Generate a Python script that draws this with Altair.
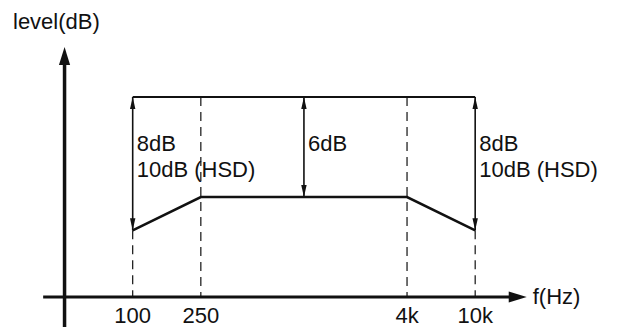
import altair as alt
import pandas as pd

# ---- values ----
band_freqs = [100, 250, 4000, 10000]          # corner frequencies (Hz)
tick_labels = ["100", "250", "4k", "10k"]
lower_levels = [-8, -6, -6, -8]               # lower response curve (dB rel. top)
top_level = 0
arrow_freqs = [100, 1000, 10000]              # double arrows
arrow_bottoms = [-8, -6, -8]
guide_tops = [-8, 0, 0, -8]                   # dashed guides start
axis_level = -12                              # frequency axis crossing level
yaxis_freq = 40
xaxis_start = 30
xaxis_end = 20000
yaxis_top = 3
yaxis_bottom = -13.8

ann_freqs = [100, 100, 1000, 10000, 10000]
ann_levels = [-2.8, -4.4, -2.8, -2.8, -4.4]
ann_texts = ["8dB", "10dB (HSD)", "6dB", "8dB", "10dB (HSD)"]

INK = "#111111"
FONT = "Liberation Sans"
FS = 22

xscale = alt.Scale(type="log", domain=[18.7, 63800], nice=False)
yscale = alt.Scale(domain=[-13.8, 5.34], nice=False, zero=False)


def X(f):
    return alt.X(f, type="quantitative", scale=xscale, axis=None)


def Y(f):
    return alt.Y(f, type="quantitative", scale=yscale, axis=None)


UP_BIG = "M0,0L-0.62,2L0.62,2Z"
RIGHT_BIG = "M0,0L-2,-0.62L-2,0.62Z"
UP_SMALL = "M0,0L-0.45,2L0.45,2Z"
DOWN_SMALL = "M0,0L-0.45,-2L0.45,-2Z"

# y axis
yaxis_df = pd.DataFrame({"f": [yaxis_freq], "y1": [yaxis_bottom], "y2": [yaxis_top - 1]})
yaxis = alt.Chart(yaxis_df).mark_rule(color=INK, strokeWidth=3.5).encode(
    x=X("f"), y=Y("y1"), y2="y2")
yarrow = alt.Chart(pd.DataFrame({"f": [yaxis_freq], "level": [yaxis_top]})).mark_point(
    shape=UP_BIG, size=324, filled=True, opacity=1, color=INK).encode(x=X("f"), y=Y("level"))

# x axis
xaxis_df = pd.DataFrame({"f1": [xaxis_start], "f2": [17000], "level": [axis_level]})
xaxis = alt.Chart(xaxis_df).mark_rule(color=INK, strokeWidth=3).encode(
    x=X("f1"), x2="f2", y=Y("level"))
xarrow = alt.Chart(pd.DataFrame({"f": [xaxis_end], "level": [axis_level]})).mark_point(
    shape=RIGHT_BIG, size=324, filled=True, opacity=1, color=INK).encode(x=X("f"), y=Y("level"))

# dashed guides
guide_df = pd.DataFrame({"f": band_freqs, "top": guide_tops, "bottom": [axis_level] * 4})
guides = alt.Chart(guide_df).mark_rule(color=INK, strokeWidth=1.2, strokeDash=[9, 6]).encode(
    x=X("f"), y=Y("top"), y2="bottom")

# top reference line
top_df = pd.DataFrame({"f1": [band_freqs[0]], "f2": [band_freqs[-1]], "level": [top_level]})
top_line = alt.Chart(top_df).mark_rule(color=INK, strokeWidth=2.2).encode(
    x=X("f1"), x2="f2", y=Y("level"))

# lower curve
low_df = pd.DataFrame({"f": band_freqs, "level": lower_levels, "o": list(range(4))})
low_line = alt.Chart(low_df).mark_line(color=INK, strokeWidth=2.6).encode(
    x=X("f"), y=Y("level"), order="o")

# double arrows
arr_df = pd.DataFrame({"f": arrow_freqs, "top": [top_level] * 3, "bottom": arrow_bottoms})
arr_rules = alt.Chart(arr_df).mark_rule(color=INK, strokeWidth=1.6).encode(
    x=X("f"), y=Y("top"), y2="bottom")
arr_up = alt.Chart(arr_df).mark_point(shape=UP_SMALL, size=144, filled=True, opacity=1,
                                      color=INK).encode(x=X("f"), y=Y("top"))
arr_down = alt.Chart(arr_df).mark_point(shape=DOWN_SMALL, size=144, filled=True, opacity=1,
                                        color=INK).encode(x=X("f"), y=Y("bottom"))

# tick labels
tick_df = pd.DataFrame({"f": band_freqs, "level": [axis_level] * 4, "t": tick_labels})
ticks = alt.Chart(tick_df).mark_text(font=FONT, fontSize=FS, color=INK, align="center",
                                     baseline="middle", dy=19).encode(
    x=X("f"), y=Y("level"), text="t:N")

# axis titles
fhz = alt.Chart(pd.DataFrame({"f": [xaxis_end], "level": [axis_level], "t": ["f(Hz)"]})).mark_text(
    font=FONT, fontSize=FS, color=INK, align="left", baseline="middle", dx=6).encode(
    x=X("f"), y=Y("level"), text="t:N")
lvl = alt.Chart(pd.DataFrame({"f": [20], "level": [4.5], "t": ["level(dB)"]})).mark_text(
    font=FONT, fontSize=FS, color=INK, align="left", baseline="middle").encode(
    x=X("f"), y=Y("level"), text="t:N")

# annotations
ann_df = pd.DataFrame({"f": ann_freqs, "level": ann_levels, "t": ann_texts})
ann = alt.Chart(ann_df).mark_text(font=FONT, fontSize=FS, color=INK, align="left",
                                  baseline="middle", dx=4).encode(
    x=X("f"), y=Y("level"), text="t:N")

chart = alt.layer(
    guides, top_line, low_line, arr_rules, arr_up, arr_down,
    yaxis, yarrow, xaxis, xarrow, ticks, fhz, lvl, ann
).properties(
    width=605, height=319, padding=0, background="white",
    autosize=alt.AutoSizeParams(type="none")
).configure_view(strokeWidth=0)

chart.save("out.html", embed_options={"renderer": "svg", "actions": False})
